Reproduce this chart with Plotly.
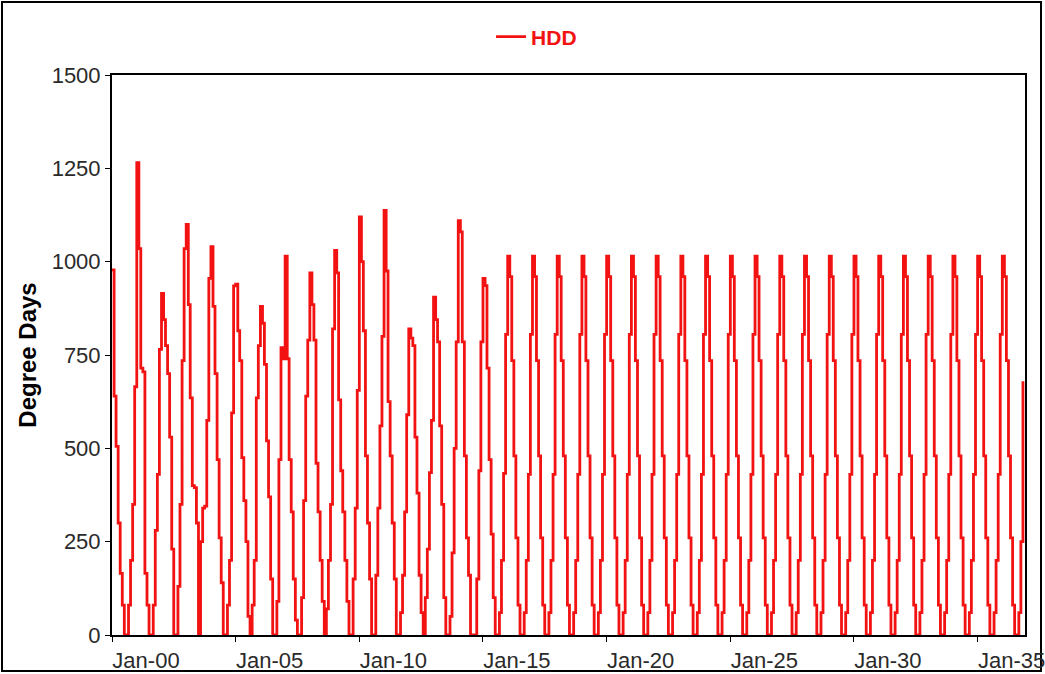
import plotly.graph_objects as go
import pandas as pd

# Monthly heating degree days (Jan..Dec per row)
hdd_2000_2007 = [
    [978, 640, 505, 300, 165, 80, 0, 0, 80, 200, 350, 665],
    [1265, 1035, 715, 705, 165, 80, 0, 0, 80, 280, 430, 765],
    [915, 845, 775, 700, 530, 230, 0, 0, 130, 350, 735, 1035],
    [1100, 885, 635, 400, 395, 300, 0, 250, 340, 345, 575, 955],
    [1040, 880, 700, 470, 260, 140, 0, 0, 80, 200, 595, 935],
    [940, 815, 735, 475, 360, 250, 50, 0, 80, 200, 635, 775],
    [880, 835, 725, 520, 370, 150, 0, 0, 90, 470, 770, 740],
    [1015, 740, 470, 330, 150, 40, 0, 0, 100, 360, 640, 790],
]
hdd_2008_2015 = [
    [970, 885, 790, 460, 330, 200, 90, 0, 70, 200, 350, 820],
    [1030, 970, 630, 440, 330, 200, 90, 0, 0, 150, 340, 655],
    [1120, 1000, 815, 480, 300, 150, 0, 0, 160, 340, 560, 800],
    [1137, 975, 625, 480, 300, 150, 0, 0, 60, 160, 330, 590],
    [820, 795, 775, 530, 380, 160, 60, 0, 100, 230, 435, 575],
    [905, 845, 785, 560, 350, 100, 0, 0, 50, 220, 500, 785],
    [1110, 1080, 785, 480, 260, 160, 0, 0, 0, 150, 440, 785],
    [955, 936, 715, 470, 270, 100, 0, 0, 60, 200, 433, 805],
]
# normal year used for 2016-2035, then the partial 2036
hdd_normal = [1015, 960, 735, 480, 260, 80, 0, 0, 60, 200, 430, 805]
n_normal_years = 20
hdd_2036 = [1015, 960, 735, 480, 260, 80, 0, 0, 60, 250, 680]

hdd = []
for yr in hdd_2000_2007 + hdd_2008_2015:
    hdd += yr
hdd += hdd_normal * n_normal_years
hdd += hdd_2036

dates = pd.date_range("2000-01-01", periods=len(hdd), freq="MS")

W, H = 1045, 674
ml, mr, mt, mb = 112, 20, 75, 39
pw, ph = W - ml - mr, H - mt - mb

fig = go.Figure()
fig.add_trace(go.Scatter(
    x=dates, y=hdd, mode="lines", name="HDD",
    line=dict(color="#f21212", width=2.8, shape="hv"),
))

fig.update_layout(
    width=W, height=H,
    margin=dict(l=ml, r=mr, t=mt, b=mb, autoexpand=False),
    paper_bgcolor="white", plot_bgcolor="white",
    font=dict(family="Liberation Sans, Arial", size=22, color="#2a2a2a"),
    showlegend=True,
    legend=dict(
        orientation="h", x=0.465, xanchor="center",
        yref="container", y=0.945, yanchor="middle",
        font=dict(color="#f21212", size=21, family="Liberation Sans, Arial", weight="bold"),
        bgcolor="rgba(0,0,0,0)",
    ),
    xaxis=dict(
        type="date",
        range=["2000-01-01", "2036-12-01"],
        tick0="2000-01-01", dtick="M60", tickformat="%b-%y",
        ticks="outside", ticklen=5, tickcolor="black",
        ticklabelshift=34, ticklabeloverflow="allow", automargin=False,
        showgrid=False, zeroline=False,
        showline=True, linecolor="black", linewidth=2, mirror=True,
    ),
    yaxis=dict(
        range=[0, 1500], dtick=250,
        ticks="outside", ticklen=5, tickcolor="black", automargin=False,
        showgrid=False, zeroline=False,
        showline=True, linecolor="black", linewidth=2, mirror=True,
        title=dict(text="<b>Degree Days</b>", font=dict(size=24, color="black"), standoff=8),
    ),
)

# thin frame around the whole picture
fig.add_shape(
    type="rect", xref="paper", yref="paper",
    x0=(2 - ml) / pw, x1=(1041 - ml) / pw,
    y0=(H - mb - 671) / ph, y1=(H - mb - 2) / ph,
    line=dict(color="black", width=2), fillcolor="rgba(0,0,0,0)", layer="below",
)

# drop the default page margin so the figure sits at the window's corner
fig.write_html(
    "out.html",
    config={"displayModeBar": False},
    post_script="document.body.style.margin='0';",
)
